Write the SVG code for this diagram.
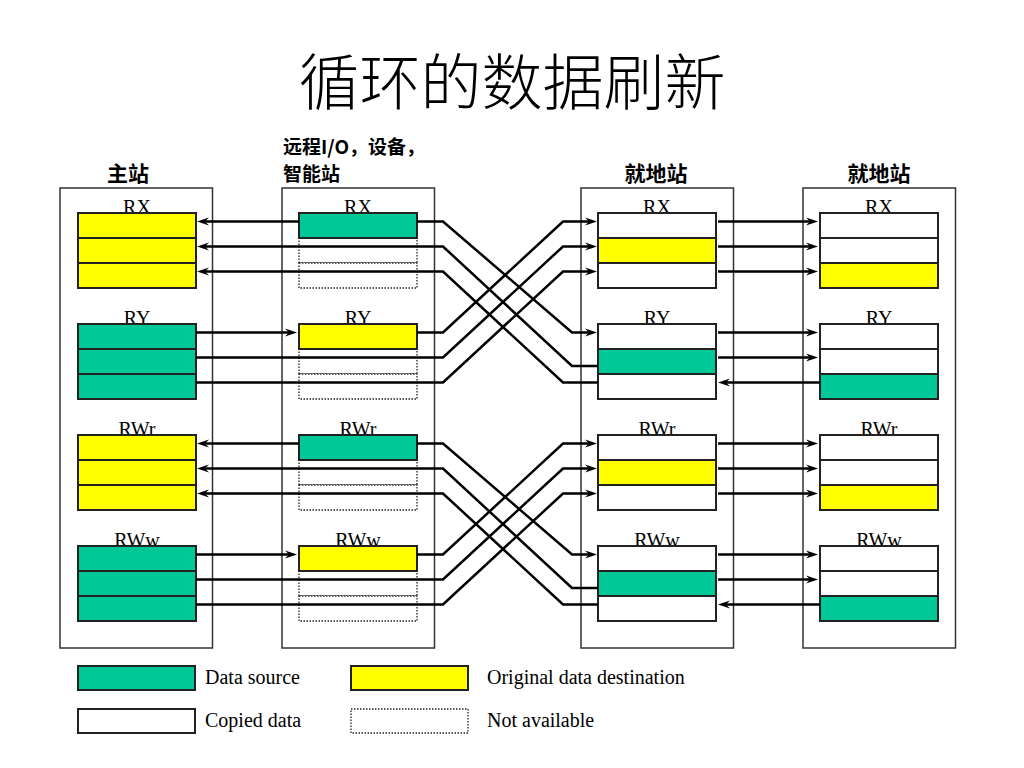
<svg xmlns="http://www.w3.org/2000/svg" width="1024" height="768" viewBox="0 0 1024 768">
<style>
.box{fill:#fff;stroke:#333;stroke-width:1.5}
.teal{fill:#00C896;stroke:#222;stroke-width:2}
.yel{fill:#FFFF00;stroke:#222;stroke-width:2}
.wht{fill:#fff;stroke:#222;stroke-width:2}
.dot{fill:#fff;stroke:#222;stroke-width:1.3;stroke-dasharray:1.5 1.5}
.lbl{font-family:"Liberation Serif",serif;font-size:20px;fill:#000;text-anchor:middle}
.leg{font-family:"Liberation Serif",serif;font-size:20px;fill:#000}
.hdr{font-family:"Noto Sans CJK SC",sans-serif;font-weight:bold;font-size:21px;fill:#000}
.hdr2{font-family:"Noto Sans CJK SC",sans-serif;font-weight:bold;font-size:19px;fill:#000}
.title{font-family:"Noto Sans CJK SC",sans-serif;font-weight:300;font-size:61px;fill:#000;text-anchor:middle}
.conn{fill:none;stroke:#000;stroke-width:2.5;stroke-linejoin:miter}
.arr{marker-end:url(#ah)}
</style>
<defs>
<marker id="ah" markerUnits="userSpaceOnUse" markerWidth="14" markerHeight="10" refX="4" refY="4" orient="auto" overflow="visible">
<path d="M0,0 L12,4 L0,8 L4,4 z" fill="#000"/>
</marker>
</defs>
<rect width="1024" height="768" fill="#fff"/>
<text class="title" x="512" y="105">循环的数据刷新</text>

<g id="node-master">
<text class="hdr" x="128" y="181" text-anchor="middle">主站</text>
<rect class="box" x="60" y="188" width="152.5" height="460"/>
<text class="lbl" x="137" y="214">RX</text>
<rect class="yel" x="78" y="213" width="118" height="25"/><rect class="yel" x="78" y="238" width="118" height="25"/><rect class="yel" x="78" y="263" width="118" height="25"/>
<text class="lbl" x="137" y="325">RY</text>
<rect class="teal" x="78" y="324" width="118" height="25"/><rect class="teal" x="78" y="349" width="118" height="25"/><rect class="teal" x="78" y="374" width="118" height="25"/>
<text class="lbl" x="137" y="436">RWr</text>
<rect class="yel" x="78" y="435" width="118" height="25"/><rect class="yel" x="78" y="460" width="118" height="25"/><rect class="yel" x="78" y="485" width="118" height="25"/>
<text class="lbl" x="137" y="547">RWw</text>
<rect class="teal" x="78" y="546" width="118" height="25"/><rect class="teal" x="78" y="571" width="118" height="25"/><rect class="teal" x="78" y="596" width="118" height="25"/>
</g>

<g id="node-remote">
<text class="hdr2"><tspan x="283" y="153.5">远程I/O，设备，</tspan><tspan x="283" y="181">智能站</tspan></text>
<rect class="box" x="282" y="188" width="152.5" height="460"/>
<text class="lbl" x="358" y="214">RX</text>
<rect class="dot" x="299" y="238" width="118" height="25"/><rect class="dot" x="299" y="263" width="118" height="25"/>
<rect class="teal" x="299" y="213" width="118" height="25"/>
<text class="lbl" x="358" y="325">RY</text>
<rect class="dot" x="299" y="349" width="118" height="25"/><rect class="dot" x="299" y="374" width="118" height="25"/>
<rect class="yel" x="299" y="324" width="118" height="25"/>
<text class="lbl" x="358" y="436">RWr</text>
<rect class="dot" x="299" y="460" width="118" height="25"/><rect class="dot" x="299" y="485" width="118" height="25"/>
<rect class="teal" x="299" y="435" width="118" height="25"/>
<text class="lbl" x="358" y="547">RWw</text>
<rect class="dot" x="299" y="571" width="118" height="25"/><rect class="dot" x="299" y="596" width="118" height="25"/>
<rect class="yel" x="299" y="546" width="118" height="25"/>
</g>

<g id="node-local1">
<text class="hdr" x="656" y="181" text-anchor="middle">就地站</text>
<rect class="box" x="581" y="188" width="152.5" height="460"/>
<text class="lbl" x="657" y="214">RX</text>
<rect class="wht" x="598" y="213" width="118" height="25"/><rect class="yel" x="598" y="238" width="118" height="25"/><rect class="wht" x="598" y="263" width="118" height="25"/>
<text class="lbl" x="657" y="325">RY</text>
<rect class="wht" x="598" y="324" width="118" height="25"/><rect class="teal" x="598" y="349" width="118" height="25"/><rect class="wht" x="598" y="374" width="118" height="25"/>
<text class="lbl" x="657" y="436">RWr</text>
<rect class="wht" x="598" y="435" width="118" height="25"/><rect class="yel" x="598" y="460" width="118" height="25"/><rect class="wht" x="598" y="485" width="118" height="25"/>
<text class="lbl" x="657" y="547">RWw</text>
<rect class="wht" x="598" y="546" width="118" height="25"/><rect class="teal" x="598" y="571" width="118" height="25"/><rect class="wht" x="598" y="596" width="118" height="25"/>
</g>

<g id="node-local2">
<text class="hdr" x="879" y="181" text-anchor="middle">就地站</text>
<rect class="box" x="803" y="188" width="152.5" height="460"/>
<text class="lbl" x="879" y="214">RX</text>
<rect class="wht" x="820" y="213" width="118" height="25"/><rect class="wht" x="820" y="238" width="118" height="25"/><rect class="yel" x="820" y="263" width="118" height="25"/>
<text class="lbl" x="879" y="325">RY</text>
<rect class="wht" x="820" y="324" width="118" height="25"/><rect class="wht" x="820" y="349" width="118" height="25"/><rect class="teal" x="820" y="374" width="118" height="25"/>
<text class="lbl" x="879" y="436">RWr</text>
<rect class="wht" x="820" y="435" width="118" height="25"/><rect class="wht" x="820" y="460" width="118" height="25"/><rect class="yel" x="820" y="485" width="118" height="25"/>
<text class="lbl" x="879" y="547">RWw</text>
<rect class="wht" x="820" y="546" width="118" height="25"/><rect class="wht" x="820" y="571" width="118" height="25"/><rect class="teal" x="820" y="596" width="118" height="25"/>
</g>

<g id="connectors">
<!-- upper half: RX / RY -->
<path class="conn arr" d="M299,221.5 H205"/>
<path class="conn arr" d="M417,221.5 H443 L572,332.5 H589"/>
<path class="conn arr" d="M598,366 H572 L443,246.5 H205"/>
<path class="conn arr" d="M598,382.5 H563 L443,271.5 H205"/>
<path class="conn arr" d="M196,332.5 H289"/>
<path class="conn arr" d="M417,332.5 H443 L563,221.5 H589"/>
<path class="conn arr" d="M196,357.5 H443 L563,246.5 H589"/>
<path class="conn arr" d="M196,382.5 H443 L563,271.5 H589"/>
<path class="conn arr" d="M718,221.5 H810"/>
<path class="conn arr" d="M718,246.5 H810"/>
<path class="conn arr" d="M718,271.5 H810"/>
<path class="conn arr" d="M718,332.5 H810"/>
<path class="conn arr" d="M718,357.5 H810"/>
<path class="conn arr" d="M820,382.5 H726"/>
<!-- lower half: RWr / RWw -->
<path class="conn arr" d="M299,443.5 H205"/>
<path class="conn arr" d="M417,443.5 H443 L572,554.5 H589"/>
<path class="conn arr" d="M598,588 H572 L443,468.5 H205"/>
<path class="conn arr" d="M598,604.5 H563 L443,493.5 H205"/>
<path class="conn arr" d="M196,554.5 H289"/>
<path class="conn arr" d="M417,554.5 H443 L563,443.5 H589"/>
<path class="conn arr" d="M196,579.5 H443 L563,468.5 H589"/>
<path class="conn arr" d="M196,604.5 H443 L563,493.5 H589"/>
<path class="conn arr" d="M718,443.5 H810"/>
<path class="conn arr" d="M718,468.5 H810"/>
<path class="conn arr" d="M718,493.5 H810"/>
<path class="conn arr" d="M718,554.5 H810"/>
<path class="conn arr" d="M718,579.5 H810"/>
<path class="conn arr" d="M820,604.5 H726"/>
</g>

<g id="legend">
<rect class="teal" x="78" y="666" width="117" height="24"/>
<text class="leg" x="205" y="684">Data source</text>
<rect class="yel" x="351" y="666" width="117" height="24"/>
<text class="leg" x="487" y="684">Original data destination</text>
<rect class="wht" x="78" y="709" width="117" height="24"/>
<text class="leg" x="205" y="727">Copied data</text>
<rect class="dot" x="351" y="709" width="117" height="24"/>
<text class="leg" x="487" y="727">Not available</text>
</g>
</svg>
